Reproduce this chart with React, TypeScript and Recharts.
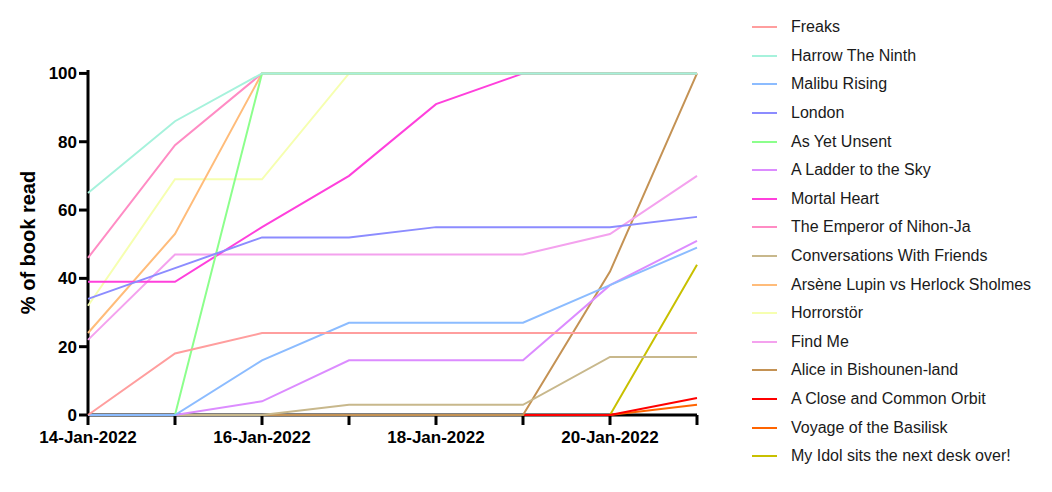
import React from 'react'
import { LineChart, Line, XAxis, YAxis } from 'recharts'

const days = ['14-Jan-2022', '15-Jan-2022', '16-Jan-2022', '17-Jan-2022', '18-Jan-2022', '19-Jan-2022', '20-Jan-2022', '21-Jan-2022']
const yTicks = [0, 20, 40, 60, 80, 100]

const freaks = [0, 18, 24, 24, 24, 24, 24, 24]
const harrow = [65, 86, 100, 100, 100, 100, 100, 100]
const malibu = [0, 0, 16, 27, 27, 27, 38, 49]
const london = [34, 43, 52, 52, 55, 55, 55, 58]
const asYetUnsent = [0, 0, 100, 100, 100, 100, 100, 100]
const ladder = [0, 0, 4, 16, 16, 16, 38, 51]
const mortalHeart = [39, 39, 55, 70, 91, 100, 100, 100]
const emperor = [46, 79, 100, 100, 100, 100, 100, 100]
const conversations = [0, 0, 0, 3, 3, 3, 17, 17]
const arsene = [24, 53, 100, 100, 100, 100, 100, 100]
const horrorstor = [32, 69, 69, 100, 100, 100, 100, 100]
const findMe = [22, 47, 47, 47, 47, 47, 53, 70]
const alice = [0, 0, 0, 0, 0, 0, 42, 100]
const closeOrbit = [0, 0, 0, 0, 0, 0, 0, 5]
const voyage = [0, 0, 0, 0, 0, 0, 0, 3]
const myIdol = [0, 0, 0, 0, 0, 0, 0, 44]

const series = [
  { name: 'Freaks', values: freaks, color: '#ff9e9e' },
  { name: 'Harrow The Ninth', values: harrow, color: '#a6f2dc' },
  { name: 'Malibu Rising', values: malibu, color: '#8cbcff' },
  { name: 'London', values: london, color: '#8c8cff' },
  { name: 'As Yet Unsent', values: asYetUnsent, color: '#8cff8c' },
  { name: 'A Ladder to the Sky', values: ladder, color: '#dc8cff' },
  { name: 'Mortal Heart', values: mortalHeart, color: '#ff40dc' },
  { name: 'The Emperor of Nihon-Ja', values: emperor, color: '#ff8cc4' },
  { name: 'Conversations With Friends', values: conversations, color: '#c8b88c' },
  { name: 'Arsène Lupin vs Herlock Sholmes', values: arsene, color: '#ffbc7a' },
  { name: 'Horrorstör', values: horrorstor, color: '#f6ffb0' },
  { name: 'Find Me', values: findMe, color: '#f4a2ee' },
  { name: 'Alice in Bishounen-land', values: alice, color: '#c49254' },
  { name: 'A Close and Common Orbit', values: closeOrbit, color: '#ff0000' },
  { name: 'Voyage of the Basilisk', values: voyage, color: '#ff6400' },
  { name: 'My Idol sits the next desk over!', values: myIdol, color: '#c8c000' },
]

const data = days.map((day, i) => {
  const row: Record<string, string | number> = { day }
  series.forEach((s) => {
    row[s.name] = s.values[i]
  })
  return row
})

const font = '"Liberation Sans", Arial, sans-serif'

function BookLegend() {
  return (
    <div style={{ position: 'absolute', left: 752, top: 13, fontFamily: font }}>
      {series.map((s) => (
        <div key={s.name} style={{ display: 'flex', alignItems: 'center', height: 28.6 }}>
          <span style={{ display: 'inline-block', width: 25, height: 2, background: s.color, marginRight: 14 }} />
          <span style={{ fontSize: 16, color: '#1a1a1a', whiteSpace: 'nowrap' }}>{s.name}</span>
        </div>
      ))}
    </div>
  )
}

export default function App() {
  // first data set ends up on top, like the original
  const drawOrder = [...series].reverse()

  return (
    <div style={{ position: 'fixed', left: 0, top: 0, width: 1052, height: 492, background: '#fff' }}>
      <LineChart width={1052} height={492} data={data} margin={{ top: 70, right: 355, bottom: 0, left: 18 }}>
        <XAxis
          dataKey="day"
          interval={0}
          tickFormatter={(v: string, i: number) => (i % 2 === 0 ? v : '')}
          axisLine={{ stroke: '#000', strokeWidth: 3 }}
          tickLine={{ stroke: '#000', strokeWidth: 3 }}
          tickSize={10}
          tickMargin={6}
          tick={{ fill: '#000', fontSize: 17, fontWeight: 700, fontFamily: font }}
          height={77}
        />
        <YAxis
          domain={[0, 101]}
          ticks={yTicks}
          width={70}
          axisLine={{ stroke: '#000', strokeWidth: 3 }}
          tickLine={{ stroke: '#000', strokeWidth: 3 }}
          tickSize={9}
          tickMargin={2}
          tick={{ fill: '#000', fontSize: 17, fontWeight: 700, fontFamily: font }}
          label={{
            value: '% of book read',
            angle: -90,
            position: 'insideLeft',
            dx: 5,
            style: { fill: '#000', fontSize: 20, fontWeight: 700, fontFamily: font, textAnchor: 'middle' },
          }}
        />
        {drawOrder.map((s) => (
          <Line
            key={s.name}
            type="linear"
            dataKey={s.name}
            stroke={s.color}
            strokeWidth={2}
            dot={false}
            activeDot={false}
            isAnimationActive={false}
            zIndex={600}
          />
        ))}
      </LineChart>
      <BookLegend />
    </div>
  )
}
